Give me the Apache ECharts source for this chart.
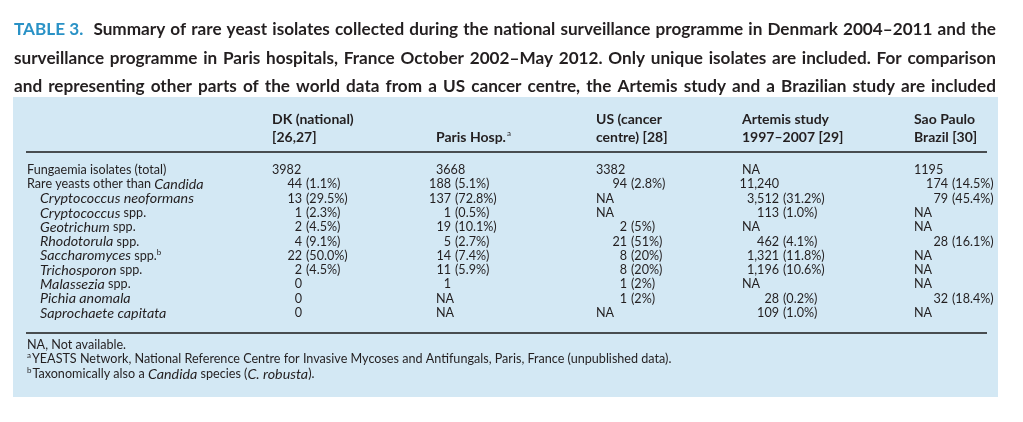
<!DOCTYPE html>
<html><head><meta charset="utf-8">
<script src="https://cdn.jsdelivr.net/npm/echarts@6/dist/echarts.min.js"></script>
<style>html,body{margin:0;padding:0;background:#fff}#c{width:1023px;height:422px}</style>
</head><body><div id="c"></div>
<script>
// ---------- data ----------
const titleLabel = 'TABLE 3.';
const titleLines = [
  'Summary of rare yeast isolates collected during the national surveillance programme in Denmark 2004–2011 and the',
  'surveillance programme in Paris hospitals, France October 2002–May 2012. Only unique isolates are included. For comparison',
  'and representing other parts of the world data from a US cancer centre, the Artemis study and a Brazilian study are included'
];
const headerTop = ['', 'DK (national)', '', 'US (cancer', 'Artemis study', 'Sao Paulo'];
const headerBottom = ['', '[26,27]', 'Paris Hosp.{sup|a}', 'centre) [28]', '1997–2007 [29]', 'Brazil [30]'];
const rowLabels = [
  'Fungaemia isolates (total)',
  'Rare yeasts other than {i|Candida}',
  '{i|Cryptococcus neoformans}',
  '{i|Cryptococcus} spp.',
  '{i|Geotrichum} spp.',
  '{i|Rhodotorula} spp.',
  '{i|Saccharomyces} spp.{sup|b}',
  '{i|Trichosporon} spp.',
  '{i|Malassezia} spp.',
  '{i|Pichia anomala}',
  '{i|Saprochaete capitata}'
];
const dk = ['3982', '44 (1.1%)', '13 (29.5%)', '1 (2.3%)', '2 (4.5%)', '4 (9.1%)', '22 (50.0%)', '2 (4.5%)', '0', '0', '0'];
const paris = ['3668', '188 (5.1%)', '137 (72.8%)', '1 (0.5%)', '19 (10.1%)', '5 (2.7%)', '14 (7.4%)', '11 (5.9%)', '1', 'NA', 'NA'];
const us = ['3382', '94 (2.8%)', 'NA', 'NA', '2 (5%)', '21 (51%)', '8 (20%)', '8 (20%)', '1 (2%)', '1 (2%)', 'NA'];
const artemis = ['NA', '11,240', '3,512 (31.2%)', '113 (1.0%)', 'NA', '462 (4.1%)', '1,321 (11.8%)', '1,196 (10.6%)', 'NA', '28 (0.2%)', '109 (1.0%)'];
const saoPaulo = ['1195', '174 (14.5%)', '79 (45.4%)', 'NA', 'NA', '28 (16.1%)', 'NA', 'NA', 'NA', '32 (18.4%)', 'NA'];
const footnotes = [
  'NA, Not available.',
  '{sup|a}YEASTS Network, National Reference Centre for Invasive Mycoses and Antifungals, Paris, France (unpublished data).',
  '{sup|b}Taxonomically also a {i|Candida} species ({i|C. robusta}).'
];

// ---------- layout / style ----------
const FONT = 'Lato, "Open Sans", sans-serif';
const TEXT = '#231f20';
const BLUE = '#2a92c6';
const PANEL = '#d3e8f4';
const BODY_SIZE = 12.6;
const ITALIC_SIZE = 14.3;
const HEAD_SIZE = 14;
const colStart = [27, 272, 436, 596, 742, 914];
const numRight = [0, 302, 451, 627, 779, 948];
const columns = [rowLabels, dk, paris, us, artemis, saoPaulo];

const rich = {
  i: { fontStyle: 'italic', fontSize: ITALIC_SIZE, fontFamily: FONT, fill: TEXT, color: TEXT },
  sup: { fontSize: 8, fontFamily: FONT, verticalAlign: 'top', color: TEXT, fill: TEXT, padding: [0, 1, 7, 0] }
};
const richBold = {
  sup: { fontSize: 8, fontFamily: FONT, fontWeight: 'normal', verticalAlign: 'top', color: TEXT, fill: TEXT, padding: [0, 0, 7, 1] }
};

// title: justify each line across the width
const canvas = document.createElement('canvas');
const ctx = canvas.getContext('2d');
function measure(t, size) { ctx.font = 'bold ' + size + 'px ' + FONT; return ctx.measureText(t).width; }
const TITLE_L = 14, TITLE_R = 996;
const lineTexts = [titleLabel + '  ' + titleLines[0], titleLines[1], titleLines[2]];
let maxW = 0;
lineTexts.forEach(t => { maxW = Math.max(maxW, measure(t, 15)); });
const TSIZE = 15 * (TITLE_R - TITLE_L) / maxW * 0.985;
const titleEls = [];
const titleY = [29, 58, 86];
titleLines.forEach((line, li) => {
  let words = line.split(' ').map(w => ({ t: w, c: TEXT }));
  if (li === 0) words = [{ t: titleLabel, c: BLUE, extraGap: true }].concat(words);
  const widths = words.map(w => measure(w.t, TSIZE));
  const total = widths.reduce((a, b) => a + b, 0);
  const gaps = words.length - 1 + (li === 0 ? 1 : 0);
  const gap = (TITLE_R - TITLE_L - total) / gaps;
  let x = TITLE_L;
  words.forEach((w, k) => {
    titleEls.push({
      type: 'text', x: x, y: titleY[li],
      style: { text: w.t, font: 'bold ' + TSIZE + 'px ' + FONT, fill: w.c, textVerticalAlign: 'middle', verticalAlign: 'middle' }
    });
    x += widths[k] + gap * (w.extraGap ? 2 : 1);
  });
});

const headerEls = [];
for (let c = 1; c < colStart.length; c++) {
  [[headerTop[c], 119], [headerBottom[c], 137]].forEach(([t, y]) => {
    if (!t) return;
    headerEls.push({
      type: 'text', x: colStart[c], y: y,
      style: { text: t, fontFamily: FONT, fontSize: HEAD_SIZE, fontWeight: 'bold', fill: TEXT, rich: richBold, verticalAlign: 'middle' }
    });
  });
}
const footEls = footnotes.map((t, k) => ({
  type: 'text', x: 27, y: [345, 359, 374][k],
  style: { text: t, fontFamily: FONT, fontSize: BODY_SIZE, fill: TEXT, rich: rich, verticalAlign: 'middle' }
}));

const cells = [];
for (let r = 0; r < rowLabels.length; r++) for (let c = 0; c < columns.length; c++) cells.push([c, r]);

const chart = echarts.init(document.getElementById('c'), null, { renderer: 'canvas' });
chart.setOption({
  animation: false,
  backgroundColor: '#ffffff',
  grid: { left: 0, right: 0, top: 162.85, height: 157.3 },
  xAxis: { type: 'value', min: 0, max: 1023, show: false },
  yAxis: { type: 'category', data: rowLabels, inverse: true, show: false },
  graphic: [
    { type: 'rect', z: -10, shape: { x: 13, y: 97, width: 985, height: 300 }, style: { fill: PANEL } },
    { type: 'line', shape: { x1: 26, y1: 152, x2: 987, y2: 152 }, style: { stroke: '#1a1a1a', lineWidth: 1.5 } },
    { type: 'line', shape: { x1: 26, y1: 333, x2: 987, y2: 333 }, style: { stroke: '#1a1a1a', lineWidth: 1.5 } }
  ].concat(titleEls, headerEls, footEls),
  series: [{
    type: 'custom',
    data: cells,
    renderItem: function (params, api) {
      const c = api.value(0), r = api.value(1);
      const s = columns[c][r];
      const base = { fontFamily: FONT, fontSize: BODY_SIZE, fill: TEXT, verticalAlign: 'middle', textVerticalAlign: 'middle' };
      if (c === 0) {
        const p = api.coord([r < 2 ? colStart[0] : 40, r]);
        return { type: 'text', x: p[0], y: p[1], style: Object.assign({ text: s, rich: rich }, base) };
      }
      const idx = s.indexOf(' (');
      if (idx >= 0) {
        const pn = api.coord([numRight[c], r]);
        const pp = api.coord([numRight[c] + 4, r]);
        return {
          type: 'group', children: [
            { type: 'text', x: pn[0], y: pn[1], style: Object.assign({ text: s.slice(0, idx), align: 'right', textAlign: 'right' }, base) },
            { type: 'text', x: pp[0], y: pp[1], style: Object.assign({ text: s.slice(idx + 1), align: 'left', textAlign: 'left' }, base) }
          ]
        };
      }
      if (r === 0 || s === 'NA') {
        const p = api.coord([colStart[c], r]);
        return { type: 'text', x: p[0], y: p[1], style: Object.assign({ text: s, align: 'left' }, base) };
      }
      const p = api.coord([numRight[c], r]);
      return { type: 'text', x: p[0], y: p[1], style: Object.assign({ text: s, align: 'right', textAlign: 'right' }, base) };
    }
  }]
});
</script></body></html>
